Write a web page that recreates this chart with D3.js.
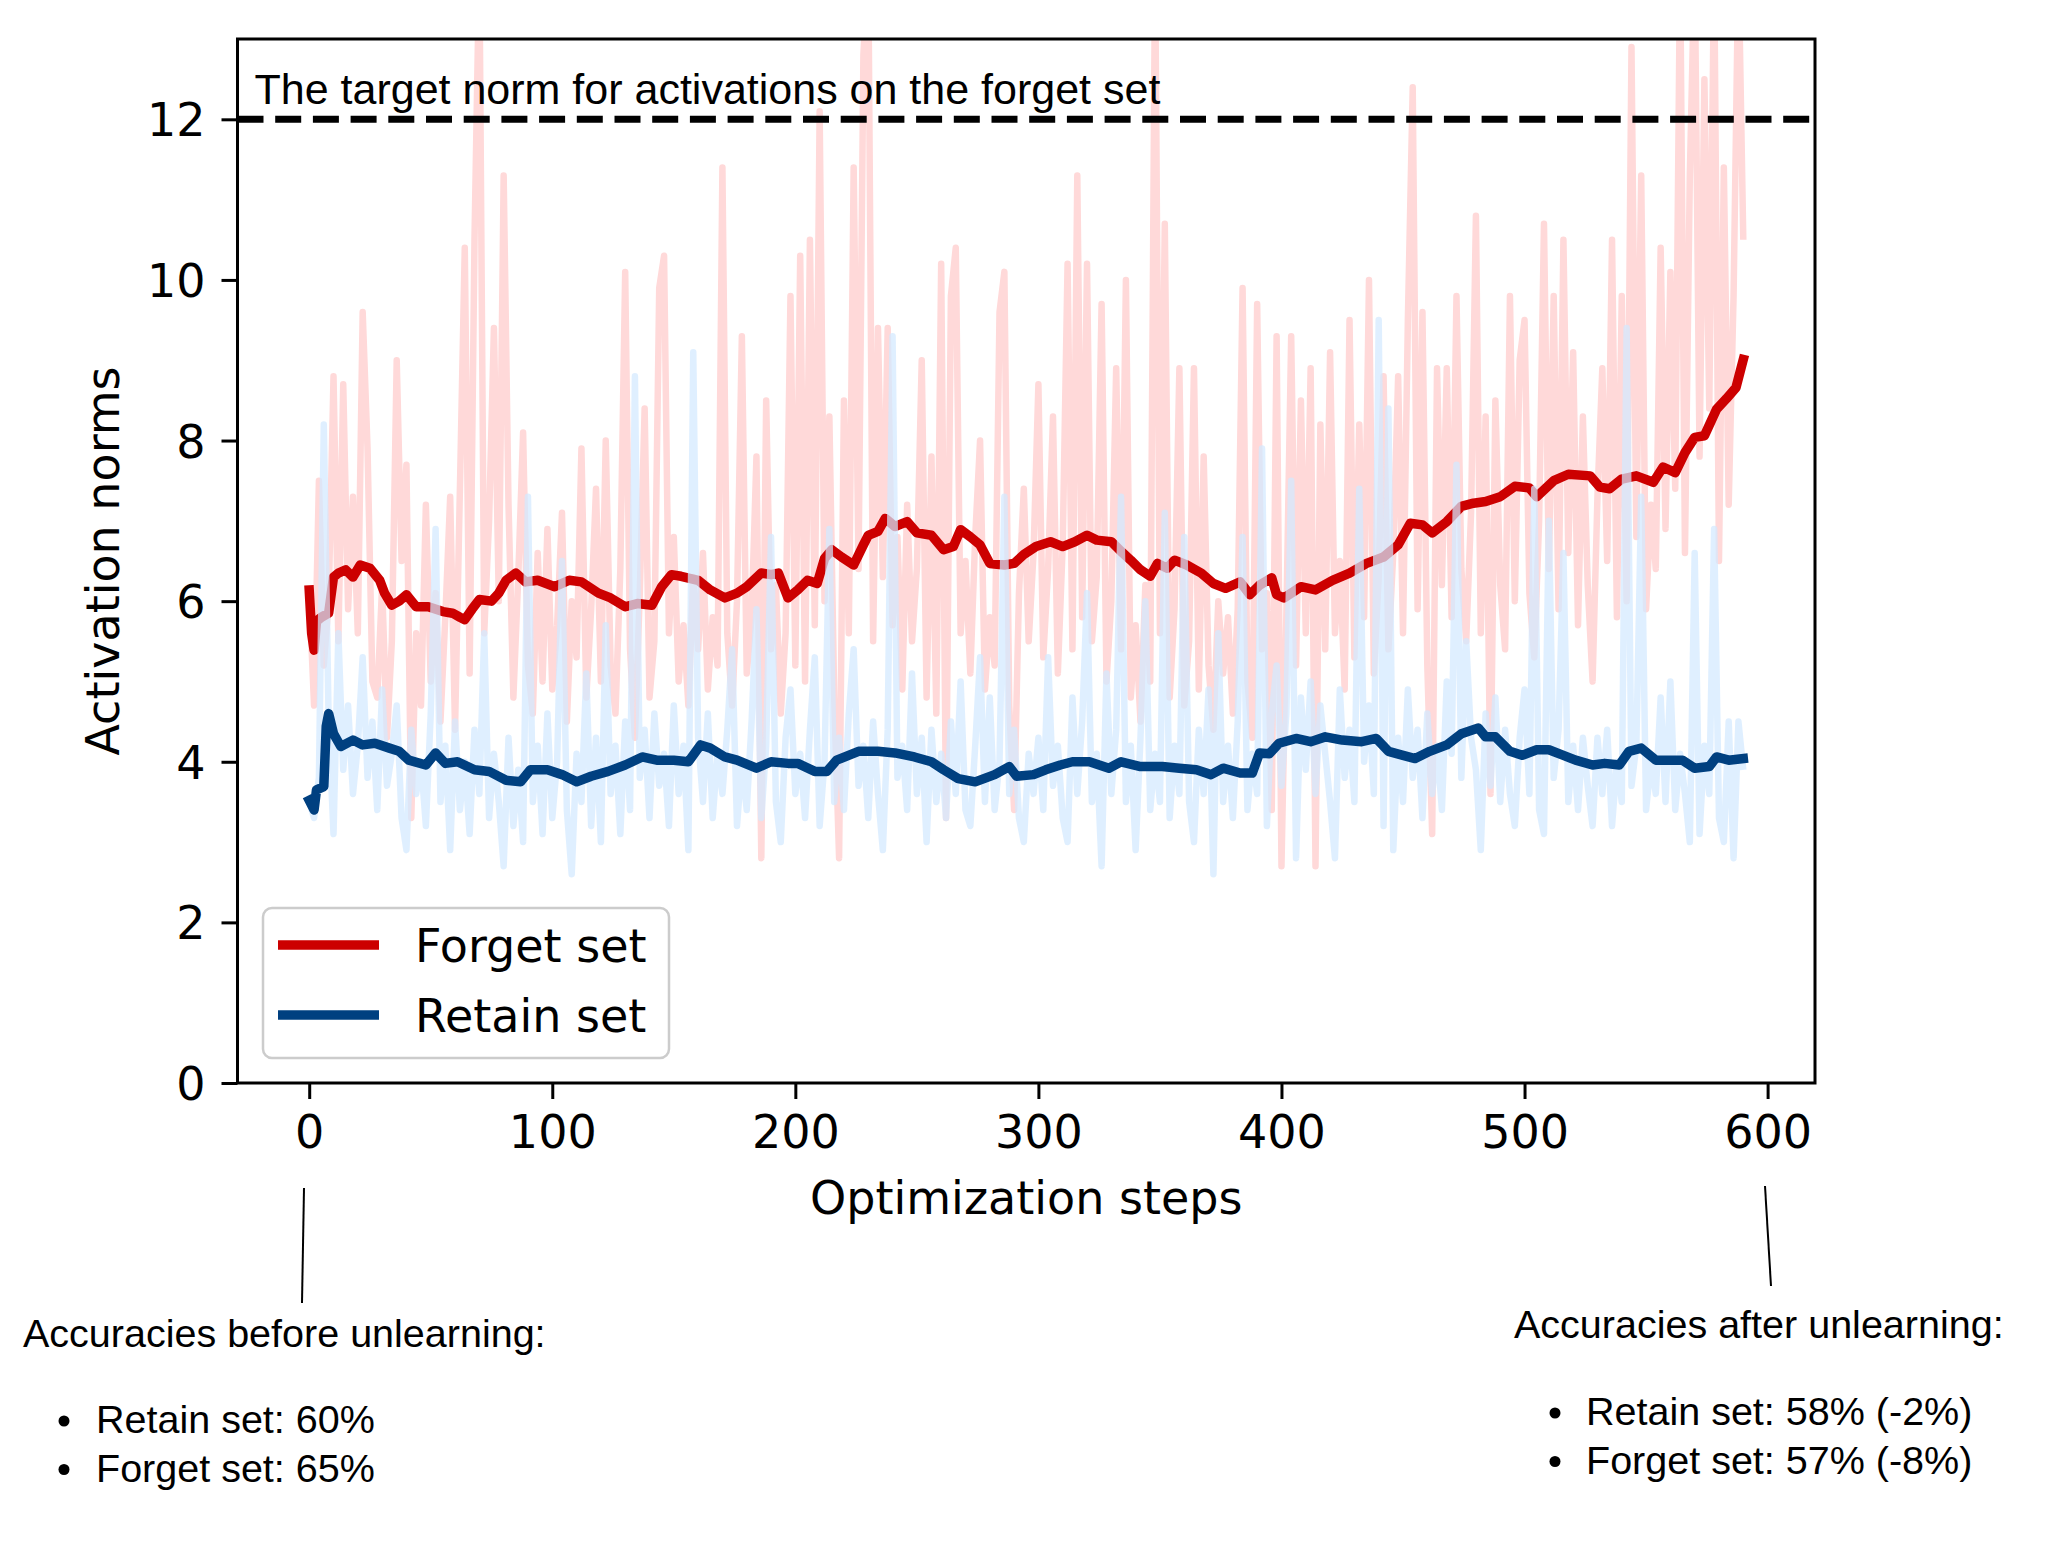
<!DOCTYPE html>
<html>
<head>
<meta charset="utf-8">
<script src="https://cdn.jsdelivr.net/npm/d3@7/dist/d3.min.js"></script>
<style>
  body { margin: 0; background: #fff; }
  svg { display: block; }
</style>
</head>
<body>
<svg id="chart" width="2048" height="1556"></svg>
<script>
// raw activation norms, one value every 2 optimization steps (0..590)
const rawStep = 2;
const forgetRaw = [
  6.1, 4.7, 7.5, 5.2, 6.0, 8.8, 5.5, 8.7, 5.9, 7.3,
  5.6, 9.6, 7.9, 5.0, 4.8, 6.2, 4.3, 5.5, 9.0, 6.5,
  7.7, 3.3, 5.6, 4.7, 7.2, 5.0, 6.1, 4.5, 5.8, 7.3,
  4.4, 7.4, 10.4, 5.1, 10.5, 14.0, 5.6, 7.0, 9.4, 6.0,
  11.3, 7.2, 4.8, 6.3, 8.1, 5.2, 4.6, 6.6, 5.0, 6.9,
  4.9, 5.7, 7.1, 4.5, 6.0, 5.3, 7.9, 4.8, 5.9, 7.4,
  5.0, 8.0, 5.2, 4.6, 6.4, 10.1, 5.4, 4.3, 6.1, 8.4,
  4.8, 5.5, 9.9, 10.3, 5.6, 6.8, 5.0, 5.7, 4.7, 6.3,
  5.4, 6.6, 4.9, 5.8, 5.2, 11.4, 5.6, 4.7, 6.0, 9.3,
  5.1, 5.8, 7.8, 2.8, 8.5, 5.4, 6.2, 4.6, 5.6, 9.8,
  5.2, 10.3, 5.0, 10.5, 5.7, 12.1, 6.0, 8.3, 4.8, 2.8,
  8.5, 5.6, 11.4, 6.4, 12.8, 14.0, 5.5, 9.4, 6.3, 9.4,
  5.7, 6.8, 4.9, 7.2, 5.5, 6.4, 9.0, 4.8, 7.8, 4.6,
  10.2, 3.3, 9.8, 10.4, 5.6, 6.5, 5.1, 6.8, 8.0, 4.9,
  5.8, 5.2, 9.6, 10.1, 4.7, 3.4, 6.1, 7.4, 5.5, 6.6,
  8.7, 5.3, 6.4, 8.3, 5.1, 6.7, 10.2, 5.4, 11.3, 5.8,
  10.2, 5.5, 6.3, 9.7, 5.0, 6.0, 8.9, 5.4, 10.0, 4.8,
  5.7, 4.5, 6.2, 5.0, 14.0, 5.6, 10.7, 4.8, 5.9, 8.9,
  4.7, 5.5, 8.9, 4.9, 7.8, 5.2, 4.4, 6.0, 5.1, 5.8,
  4.6, 5.9, 9.9, 5.0, 4.3, 9.7, 5.4, 6.1, 3.4, 9.3,
  2.7, 5.8, 9.3, 5.2, 8.5, 5.6, 8.9, 2.7, 8.2, 5.4,
  9.1, 5.6, 6.5, 4.9, 9.5, 5.3, 8.2, 5.8, 10.0, 5.1,
  6.3, 8.8, 5.4, 6.6, 8.8, 5.6, 9.5, 12.4, 5.9, 9.6,
  5.2, 3.1, 8.9, 6.2, 8.9, 5.8, 9.8, 6.4, 5.5, 7.1,
  10.8, 5.6, 8.3, 3.6, 8.5, 6.2, 5.4, 9.8, 6.0, 9.0,
  9.5, 6.1, 5.3, 7.0, 10.7, 6.4, 9.8, 5.9, 10.5, 6.6,
  9.1, 5.7, 8.3, 6.2, 5.0, 7.3, 8.9, 6.5, 10.5, 5.8,
  9.8, 6.0, 12.9, 6.8, 11.3, 5.9, 7.2, 6.4, 10.4, 6.9,
  10.1, 7.4, 14.0, 6.6, 11.3, 14.0, 7.8, 12.5, 8.4, 14.0,
  6.5, 11.4, 7.2, 9.8, 14.0, 10.5
];
const retainRaw = [
  3.5, 3.3, 3.8, 8.2, 4.5, 3.1, 5.6, 3.9, 4.7, 3.6,
  4.2, 5.3, 3.8, 4.5, 3.4, 4.9, 3.7, 4.1, 4.7, 3.3,
  2.9, 4.4, 3.6, 4.0, 3.2, 4.6, 6.9, 3.5, 4.2, 2.9,
  4.5, 3.4, 4.0, 3.1, 4.4, 3.6, 5.6, 3.3, 4.1, 3.5,
  2.7, 4.3, 3.2, 3.9, 3.0, 7.3, 3.5, 4.2, 3.1, 4.6,
  3.3, 4.0, 6.5, 3.4, 2.6, 4.1, 3.5, 5.1, 3.2, 4.3,
  3.0, 5.7, 3.6, 4.2, 3.1, 4.5, 3.4, 8.8, 3.8, 4.4,
  3.3, 4.6, 3.7, 4.1, 3.2, 4.7, 3.6, 4.2, 2.9, 9.1,
  4.3, 3.5, 4.6, 3.3, 4.1, 3.6, 4.4, 5.4, 3.2, 4.0,
  3.4, 4.5, 5.9, 3.3, 4.2, 6.8, 3.5, 3.0, 4.3, 4.9,
  3.6, 4.1, 3.3, 4.4, 5.3, 3.2, 4.0, 6.9, 3.5, 4.3,
  3.4, 4.6, 5.4, 3.7, 4.2, 3.3, 4.5, 3.6, 2.9, 4.4,
  9.3, 3.8, 4.2, 3.4, 5.1, 3.6, 4.3, 3.0, 4.4, 3.5,
  4.1, 3.3, 4.5, 3.6, 5.0, 3.4, 3.2, 4.2, 5.3, 3.5,
  4.8, 3.4, 4.0, 7.3, 3.6, 4.4, 3.3, 3.0, 4.1, 3.6,
  4.3, 3.4, 5.3, 3.7, 4.2, 3.3, 3.0, 4.8, 3.6, 4.5,
  6.1, 3.5, 4.1, 2.7, 5.1, 3.6, 4.4, 7.3, 3.5, 4.2,
  2.9, 4.3, 6.0, 3.4, 4.1, 3.5, 7.1, 3.3, 4.2, 3.6,
  6.8, 3.5, 3.0, 4.4, 3.6, 4.9, 2.6, 5.6, 3.5, 4.2,
  3.3, 4.5, 6.8, 3.4, 4.1, 3.6, 7.9, 3.2, 4.6, 5.2,
  3.7, 4.6, 7.5, 2.8, 4.8, 3.9, 5.0, 3.6, 4.7, 4.1,
  3.5, 2.8, 4.9, 3.8, 4.4, 3.5, 7.4, 4.0, 4.7, 3.6,
  9.5, 3.2, 8.4, 2.9, 4.3, 3.5, 4.9, 3.8, 4.4, 3.3,
  4.6, 3.6, 4.2, 3.4, 5.0, 4.1, 7.7, 3.8, 5.5, 4.3,
  3.9, 2.9, 4.6, 3.7, 4.8, 3.5, 4.4, 3.6, 3.2, 4.3,
  4.9, 3.6, 7.4, 3.4, 3.1, 7.0, 3.8, 4.4, 6.6, 3.5,
  4.2, 3.4, 4.3, 3.7, 3.2, 4.3, 3.6, 4.4, 3.2, 4.0,
  3.5, 9.4, 3.7, 4.2, 7.3, 3.4, 4.0, 3.6, 4.8, 3.5,
  5.0, 3.4, 4.1, 3.6, 3.0, 6.6, 3.1, 4.2, 3.6, 6.9,
  3.3, 3.0, 4.5, 2.8, 4.5, 3.9
];

// smoothed curves (step, value)
const forgetTrendSteps = [0, 1, 2, 3, 5, 8, 10, 12, 15, 18, 21, 25, 29, 31, 34, 37, 40, 44, 49, 55, 59, 62, 64, 67, 70, 75, 78, 81, 85, 89, 94, 101, 107, 112, 119, 124, 130, 135, 141, 145, 149, 153, 160, 165, 171, 176, 180, 186, 190, 193, 197, 201, 205, 209, 212, 215, 219, 224, 228, 230, 234, 237, 241, 246, 250, 256, 261, 265, 268, 272, 276, 280, 286, 290, 294, 299, 305, 310, 315, 320, 324, 330, 334, 338, 342, 346, 349, 353, 356, 361, 367, 372, 377, 383, 387, 391, 396, 398, 401, 408, 414, 421, 428, 435, 442, 448, 453, 458, 462, 468, 474, 479, 484, 490, 496, 502, 505, 512, 518, 527, 531, 535, 540, 546, 553, 557, 562, 566, 570, 574, 579, 583, 587, 590];
const forgetTrendValues = [6.14, 5.6, 5.39, 5.75, 5.8, 5.85, 6.3, 6.35, 6.39, 6.3, 6.45, 6.41, 6.26, 6.1, 5.95, 6.0, 6.08, 5.93, 5.93, 5.87, 5.85, 5.8, 5.77, 5.9, 6.02, 6.0, 6.1, 6.26, 6.35, 6.24, 6.26, 6.18, 6.26, 6.24, 6.1, 6.04, 5.93, 5.97, 5.95, 6.18, 6.33, 6.31, 6.26, 6.14, 6.04, 6.1, 6.18, 6.35, 6.33, 6.35, 6.04, 6.14, 6.26, 6.22, 6.53, 6.64, 6.55, 6.45, 6.7, 6.82, 6.87, 7.03, 6.93, 6.99, 6.85, 6.82, 6.64, 6.68, 6.89, 6.8, 6.7, 6.47, 6.45, 6.47, 6.58, 6.68, 6.74, 6.68, 6.74, 6.82, 6.76, 6.74, 6.62, 6.51, 6.39, 6.31, 6.47, 6.41, 6.51, 6.45, 6.35, 6.22, 6.16, 6.24, 6.08, 6.2, 6.29, 6.08, 6.04, 6.18, 6.14, 6.26, 6.35, 6.47, 6.55, 6.7, 6.97, 6.95, 6.85, 6.99, 7.18, 7.22, 7.24, 7.3, 7.43, 7.41, 7.3, 7.5, 7.58, 7.56, 7.42, 7.4, 7.52, 7.56, 7.48, 7.67, 7.6, 7.85, 8.04, 8.06, 8.39, 8.52, 8.66, 9.01];
const retainTrendSteps = [0, 2, 3, 6, 7, 8, 10, 13, 18, 22, 27, 33, 37, 41, 48, 52, 56, 61, 68, 74, 81, 87, 91, 98, 104, 110, 116, 123, 130, 137, 143, 150, 156, 161, 165, 171, 176, 184, 190, 197, 201, 208, 213, 217, 226, 234, 241, 249, 256, 261, 267, 274, 282, 288, 291, 298, 303, 309, 314, 321, 329, 334, 342, 351, 358, 365, 371, 376, 383, 388, 391, 395, 399, 406, 412, 418, 425, 433, 439, 444, 450, 455, 461, 468, 474, 481, 484, 488, 494, 499, 505, 510, 516, 521, 528, 533, 539, 543, 548, 554, 559, 565, 570, 576, 579, 584, 590];
const retainTrendValues = [3.52, 3.4, 3.65, 3.69, 4.44, 4.6, 4.35, 4.19, 4.27, 4.21, 4.23, 4.17, 4.13, 4.02, 3.96, 4.11, 3.98, 4.0, 3.9, 3.88, 3.77, 3.75, 3.9, 3.9, 3.84, 3.75, 3.82, 3.88, 3.96, 4.06, 4.02, 4.02, 4.0, 4.21, 4.17, 4.06, 4.02, 3.92, 4.0, 3.98, 3.98, 3.88, 3.88, 4.02, 4.13, 4.13, 4.11, 4.06, 4.0, 3.9, 3.79, 3.75, 3.84, 3.94, 3.82, 3.84, 3.9, 3.96, 4.0, 4.0, 3.92, 4.0, 3.94, 3.94, 3.92, 3.9, 3.84, 3.92, 3.86, 3.86, 4.11, 4.1, 4.23, 4.29, 4.25, 4.31, 4.27, 4.25, 4.29, 4.13, 4.08, 4.04, 4.13, 4.21, 4.35, 4.42, 4.31, 4.31, 4.13, 4.08, 4.15, 4.15, 4.08, 4.02, 3.96, 3.98, 3.96, 4.13, 4.17, 4.02, 4.02, 4.02, 3.92, 3.94, 4.06, 4.02, 4.04];

const xTicks = [0, 100, 200, 300, 400, 500, 600];
const yTicks = [0, 2, 4, 6, 8, 10, 12];
const targetNorm = 12;
const seriesNames = ["Forget set", "Retain set"];
const targetLabel = "The target norm for activations on the forget set";
const beforeTitle = "Accuracies before unlearning:";
const beforeItems = ["Retain set: 60%", "Forget set: 65%"];
const afterTitle = "Accuracies after unlearning:";
const afterItems = ["Retain set: 58% (-2%)", "Forget set: 57% (-8%)"];

const colors = {
  forget: "#cc0000",
  forgetRaw: "#ffd9d9",
  retain: "#004080",
  retainRaw: "#d3e9ff",
};

const axisFont = "'DejaVu Sans', sans-serif";
const noteFont = "'Liberation Sans', Arial, Helvetica, sans-serif";
const frame = { left: 237.5, right: 1815, top: 39, bottom: 1083 };

const svg = d3.select("#chart");

const x = d3.scaleLinear().domain([-29.5, 619.5]).range([frame.left, frame.right]);
const y = d3.scaleLinear().domain([0, 13]).range([frame.bottom, frame.top]);

svg.append("defs").append("clipPath").attr("id", "plotClip")
  .append("rect")
  .attr("x", frame.left).attr("y", frame.top)
  .attr("width", frame.right - frame.left).attr("height", frame.bottom - frame.top);

const plot = svg.append("g").attr("clip-path", "url(#plotClip)");

const rawLine = d3.line()
  .x((d, i) => x(i * rawStep))
  .y(d => y(d));

const trendLine = d3.line()
  .x(d => x(d[0]))
  .y(d => y(d[1]));

const zip = (a, b) => a.map((s, i) => [s, b[i]]);

// forget raw + trend, then retain raw (translucent) + trend
plot.append("path")
  .attr("d", rawLine(forgetRaw))
  .attr("fill", "none")
  .attr("stroke", colors.forgetRaw)
  .attr("stroke-width", 6.5)
  .attr("stroke-linejoin", "round");

plot.append("path")
  .attr("d", trendLine(zip(forgetTrendSteps, forgetTrendValues)))
  .attr("fill", "none")
  .attr("stroke", colors.forget)
  .attr("stroke-width", 9.5)
  .attr("stroke-linejoin", "round")
  .attr("stroke-linecap", "square");

plot.append("path")
  .attr("d", rawLine(retainRaw))
  .attr("fill", "none")
  .attr("stroke", colors.retainRaw)
  .attr("stroke-opacity", 0.72)
  .attr("stroke-width", 6.5)
  .attr("stroke-linejoin", "round");

plot.append("path")
  .attr("d", trendLine(zip(retainTrendSteps, retainTrendValues)))
  .attr("fill", "none")
  .attr("stroke", colors.retain)
  .attr("stroke-width", 9.5)
  .attr("stroke-linejoin", "round")
  .attr("stroke-linecap", "square");

// target norm
plot.append("line")
  .attr("x1", frame.left).attr("x2", frame.right)
  .attr("y1", y(targetNorm)).attr("y2", y(targetNorm))
  .attr("stroke", "#000")
  .attr("stroke-width", 7)
  .attr("stroke-dasharray", "26 11.7");

svg.append("text")
  .attr("x", 254.5).attr("y", 104)
  .attr("font-family", noteFont)
  .attr("font-size", 43)
  .attr("fill", "#000")
  .text(targetLabel);

// axes
const xAxis = svg.append("g")
  .attr("transform", `translate(0,${frame.bottom})`)
  .call(d3.axisBottom(x).tickValues(xTicks).tickSize(16).tickSizeOuter(0).tickPadding(16));
const yAxis = svg.append("g")
  .attr("transform", `translate(${frame.left},0)`)
  .call(d3.axisLeft(y).tickValues(yTicks).tickSize(16).tickSizeOuter(0).tickPadding(16));

[xAxis, yAxis].forEach(g => {
  g.select(".domain").remove();
  g.selectAll(".tick line").attr("stroke", "#000").attr("stroke-width", 3);
  g.selectAll(".tick text")
    .attr("font-family", axisFont)
    .attr("font-size", 46)
    .attr("fill", "#000");
});
yAxis.selectAll(".tick text").attr("dy", "0.36em");

svg.append("rect")
  .attr("x", frame.left).attr("y", frame.top)
  .attr("width", frame.right - frame.left).attr("height", frame.bottom - frame.top)
  .attr("fill", "none")
  .attr("stroke", "#000")
  .attr("stroke-width", 3);

svg.append("text")
  .attr("x", (frame.left + frame.right) / 2).attr("y", 1214)
  .attr("text-anchor", "middle")
  .attr("font-family", axisFont)
  .attr("font-size", 46)
  .text("Optimization steps");

svg.append("text")
  .attr("transform", `translate(119,${(frame.top + frame.bottom) / 2}) rotate(-90)`)
  .attr("text-anchor", "middle")
  .attr("font-family", axisFont)
  .attr("font-size", 46)
  .text("Activation norms");

// legend
const legend = svg.append("g").attr("transform", "translate(263,908)");
legend.append("rect")
  .attr("width", 406).attr("height", 150)
  .attr("rx", 9)
  .attr("fill", "#fff").attr("fill-opacity", 0.8)
  .attr("stroke", "#cccccc").attr("stroke-width", 2.5);

const legendColors = [colors.forget, colors.retain];
const entry = legend.selectAll("g.entry")
  .data(seriesNames)
  .join("g")
  .attr("class", "entry")
  .attr("transform", (d, i) => `translate(0,${37 + i * 70})`);
entry.append("line")
  .attr("x1", 15).attr("x2", 116)
  .attr("stroke", (d, i) => legendColors[i])
  .attr("stroke-width", 9.5);
entry.append("text")
  .attr("x", 152).attr("y", 17)
  .attr("font-family", axisFont)
  .attr("font-size", 46)
  .text(d => d);

// accuracy notes under the chart
svg.append("line")
  .attr("x1", 304).attr("y1", 1188).attr("x2", 302).attr("y2", 1303)
  .attr("stroke", "#000").attr("stroke-width", 2);
svg.append("line")
  .attr("x1", 1765).attr("y1", 1186).attr("x2", 1771).attr("y2", 1286)
  .attr("stroke", "#000").attr("stroke-width", 2);

function note(tx, ty, title, items, bx, ix, iy) {
  const g = svg.append("g")
    .attr("font-family", noteFont)
    .attr("font-size", 39.5)
    .attr("fill", "#000");
  g.append("text").attr("x", tx).attr("y", ty).text(title);
  items.forEach((t, i) => {
    g.append("circle").attr("cx", bx).attr("cy", iy + i * 48.5 - 12).attr("r", 5.5);
    g.append("text").attr("x", ix).attr("y", iy + i * 48.5).text(t);
  });
}
note(23, 1347, beforeTitle, beforeItems, 64, 96, 1433);
note(1514, 1338, afterTitle, afterItems, 1555, 1586, 1425);
</script>
</body>
</html>
